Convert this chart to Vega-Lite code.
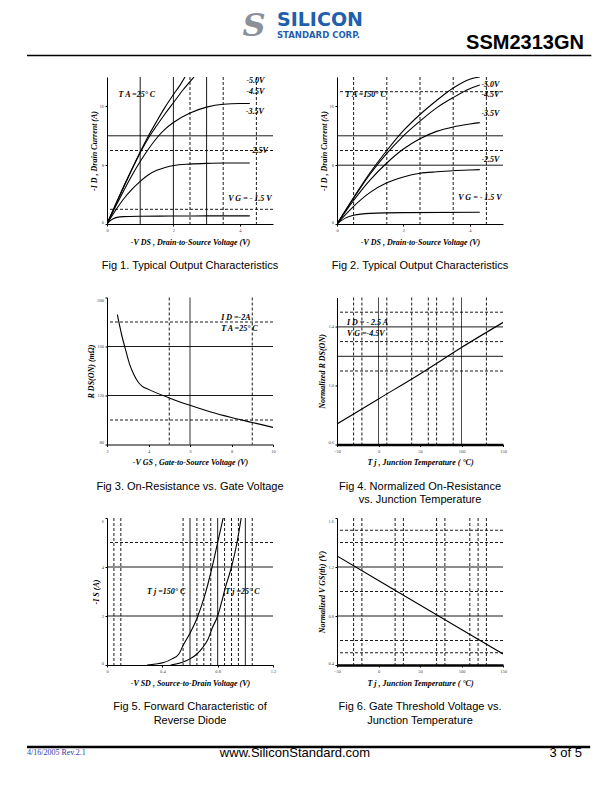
{
  "$schema": "https://vega.github.io/schema/vega-lite/v6.json",
  "autosize": {"type": "pad"},
  "padding": {"left": 25, "top": 8, "right": 0, "bottom": 0},
  "background": "white",
  "spacing": 16,
  "config": {
    "view": {"stroke": null},
    "axis": {"labelFont": "Liberation Serif", "labelFontSize": 4.5, "labelColor": "#444444", "titleFont": "Liberation Serif", "titleFontSize": 8, "titleFontStyle": "italic", "titleFontWeight": "bold", "titleColor": "black", "domainColor": "black", "domainWidth": 1, "tickColor": "black", "tickSize": 2, "grid": false, "labelPadding": 1.5, "labelOverlap": false},
    "axisX": {"titlePadding": 6, "labelFlush": false},
    "axisY": {"titlePadding": 1, "labelFlush": true},
    "title": {"orient": "bottom", "anchor": "middle", "font": "Liberation Sans", "fontSize": 11, "fontWeight": "normal", "color": "black", "offset": 14, "lineHeight": 13.5}
  },
  "vconcat": [
    {
      "width": 566, "height": 52,
      "data": {"values": [{}]},
      "layer": [
        {"mark": {"type": "rule", "color": "black", "strokeWidth": 1.5},
         "encoding": {"x": {"datum": 0, "type": "quantitative", "scale": {"domain": [0, 1]}, "axis": null}, "x2": {"datum": 0.997}, "y": {"datum": 0.0865, "type": "quantitative", "scale": {"domain": [0, 1]}, "axis": null}}},
        {"mark": {"type": "text", "text": "S", "font": "DejaVu Serif", "fontSize": 32, "fontStyle": "italic", "fontWeight": "bold", "color": "#8c9199", "align": "center", "baseline": "middle"},
         "encoding": {"x": {"datum": 0.401, "type": "quantitative"}, "y": {"datum": 0.654, "type": "quantitative"}}},
        {"mark": {"type": "text", "text": "SILICON", "font": "DejaVu Sans", "fontSize": 19, "fontWeight": "bold", "color": "#1f5fae", "align": "left", "baseline": "middle"},
         "encoding": {"x": {"datum": 0.4417, "type": "quantitative"}, "y": {"datum": 0.76, "type": "quantitative"}}},
        {"mark": {"type": "text", "text": "STANDARD CORP.", "font": "DejaVu Sans", "fontSize": 8.5, "fontWeight": "bold", "color": "#1f5fae", "align": "left", "baseline": "middle"},
         "encoding": {"x": {"datum": 0.4417, "type": "quantitative"}, "y": {"datum": 0.49, "type": "quantitative"}}},
        {"mark": {"type": "text", "text": "SSM2313GN", "font": "Liberation Sans", "fontSize": 20, "fontWeight": "bold", "color": "black", "align": "right", "baseline": "middle"},
         "encoding": {"x": {"datum": 0.984, "type": "quantitative"}, "y": {"datum": 0.327, "type": "quantitative"}}}
      ]
    },
    {
      "bounds": "flush",
      "align": "each",
      "columns": 3,
      "spacing": {"row": 73.5, "column": 64},
      "concat": [
        {"width": 16, "height": 147, "data": {"values": [{}]}, "mark": {"type": "text", "text": ""}},
        {
          "width": 166, "height": 147,
          "title": {"text": "Fig 1. Typical Output Characteristics"},
          "layer": [
            {"data": {"values": [
              {"s": "-5.0V", "x": 0, "y": 0}, {"s": "-5.0V", "x": 0.25, "y": 2.6}, {"s": "-5.0V", "x": 0.5, "y": 5.1}, {"s": "-5.0V", "x": 0.75, "y": 7.5}, {"s": "-5.0V", "x": 1, "y": 9.8}, {"s": "-5.0V", "x": 1.25, "y": 12}, {"s": "-5.0V", "x": 1.5, "y": 14}, {"s": "-5.0V", "x": 1.75, "y": 15.9}, {"s": "-5.0V", "x": 2, "y": 17.6}, {"s": "-5.0V", "x": 2.2, "y": 18.9}, {"s": "-5.0V", "x": 2.35, "y": 20},
              {"s": "-4.5V", "x": 0, "y": 0}, {"s": "-4.5V", "x": 0.25, "y": 2.5}, {"s": "-4.5V", "x": 0.5, "y": 5}, {"s": "-4.5V", "x": 0.75, "y": 7.4}, {"s": "-4.5V", "x": 1, "y": 9.7}, {"s": "-4.5V", "x": 1.25, "y": 11.7}, {"s": "-4.5V", "x": 1.5, "y": 13.4}, {"s": "-4.5V", "x": 1.75, "y": 15}, {"s": "-4.5V", "x": 2, "y": 16.5}, {"s": "-4.5V", "x": 2.3, "y": 18.3}, {"s": "-4.5V", "x": 2.62, "y": 20},
              {"s": "-3.5V", "x": 0, "y": 0}, {"s": "-3.5V", "x": 0.25, "y": 2.3}, {"s": "-3.5V", "x": 0.5, "y": 4.5}, {"s": "-3.5V", "x": 0.75, "y": 6.6}, {"s": "-3.5V", "x": 1, "y": 8.5}, {"s": "-3.5V", "x": 1.25, "y": 10.2}, {"s": "-3.5V", "x": 1.5, "y": 11.7}, {"s": "-3.5V", "x": 1.75, "y": 12.9}, {"s": "-3.5V", "x": 2, "y": 13.8}, {"s": "-3.5V", "x": 2.5, "y": 15.1}, {"s": "-3.5V", "x": 3, "y": 15.9}, {"s": "-3.5V", "x": 3.5, "y": 16.3}, {"s": "-3.5V", "x": 4, "y": 16.4}, {"s": "-3.5V", "x": 4.3, "y": 16.4},
              {"s": "-2.5V", "x": 0, "y": 0}, {"s": "-2.5V", "x": 0.25, "y": 1.8}, {"s": "-2.5V", "x": 0.5, "y": 3.4}, {"s": "-2.5V", "x": 0.75, "y": 4.7}, {"s": "-2.5V", "x": 1, "y": 5.8}, {"s": "-2.5V", "x": 1.25, "y": 6.7}, {"s": "-2.5V", "x": 1.5, "y": 7.3}, {"s": "-2.5V", "x": 1.75, "y": 7.7}, {"s": "-2.5V", "x": 2, "y": 7.95}, {"s": "-2.5V", "x": 2.5, "y": 8.15}, {"s": "-2.5V", "x": 3, "y": 8.25}, {"s": "-2.5V", "x": 3.5, "y": 8.3}, {"s": "-2.5V", "x": 4.3, "y": 8.3},
              {"s": "-1.5V", "x": 0, "y": 0}, {"s": "-1.5V", "x": 0.1, "y": 0.45}, {"s": "-1.5V", "x": 0.2, "y": 0.75}, {"s": "-1.5V", "x": 0.3, "y": 0.9}, {"s": "-1.5V", "x": 0.5, "y": 1.0}, {"s": "-1.5V", "x": 1, "y": 1.05}, {"s": "-1.5V", "x": 2, "y": 1.08}, {"s": "-1.5V", "x": 3, "y": 1.1}, {"s": "-1.5V", "x": 4.3, "y": 1.1}
            ]},
             "mark": {"type": "line", "color": "black", "strokeWidth": 1.1, "interpolate": "monotone", "clip": true},
             "encoding": {
               "x": {"field": "x", "type": "quantitative", "scale": {"domain": [0, 5], "nice": false}, "axis": {"title": "-V DS , Drain-to-Source Voltage (V)", "values": [0, 1, 2, 3, 4, 5]}},
               "y": {"field": "y", "type": "quantitative", "scale": {"domain": [0, 20], "nice": false}, "axis": {"title": "-I D , Drain Current (A)", "values": [0, 4, 8, 12, 16, 20]}},
               "detail": {"field": "s", "type": "nominal"}}},
            {"data": {"values": [{"y": 12, "k": "solid"}, {"y": 10, "k": "dash"}, {"y": 2, "k": "dash"}]},
             "mark": {"type": "rule", "color": "black", "strokeWidth": 0.9},
             "encoding": {"y": {"field": "y", "type": "quantitative"}, "strokeDash": {"field": "k", "type": "nominal", "scale": {"domain": ["solid", "dash"], "range": [[1, 0], [3, 2]]}, "legend": null}}},
            {"data": {"values": [{"x": 1, "k": "solid"}, {"x": 2, "k": "solid"}, {"x": 3, "k": "solid"}, {"x": 2.5, "k": "dash"}, {"x": 3.5, "k": "dash"}, {"x": 4.5, "k": "dash"}]},
             "mark": {"type": "rule", "color": "black", "strokeWidth": 0.9},
             "encoding": {"x": {"field": "x", "type": "quantitative"}, "strokeDash": {"field": "k", "type": "nominal", "scale": {"domain": ["solid", "dash"], "range": [[1, 0], [3, 2]]}, "legend": null}}},
            {"data": {"values": [{"x": 0.35, "y": 17.6, "t": "T A =25° C"}, {"x": 4.2, "y": 19.4, "t": "-5.0V"}, {"x": 4.2, "y": 18.0, "t": "-4.5V"}, {"x": 4.18, "y": 15.2, "t": "-3.5V"}, {"x": 4.3, "y": 10, "t": "-2.5V"}, {"x": 3.65, "y": 3.4, "t": "V G = - 1.5 V"}]},
             "mark": {"type": "text", "align": "left", "baseline": "middle", "font": "Liberation Serif", "fontStyle": "italic", "fontWeight": "bold", "fontSize": 8, "color": "black"},
             "encoding": {"x": {"field": "x", "type": "quantitative"}, "y": {"field": "y", "type": "quantitative"}, "text": {"field": "t"}}}
          ]
        },
        {
          "width": 166, "height": 147,
          "title": {"text": "Fig 2. Typical Output Characteristics"},
          "layer": [
            {"data": {"values": [
              {"s": "-5.0V", "x": 0, "y": 0}, {"s": "-5.0V", "x": 0.5, "y": 3.6}, {"s": "-5.0V", "x": 1, "y": 7}, {"s": "-5.0V", "x": 1.5, "y": 10}, {"s": "-5.0V", "x": 2, "y": 12.7}, {"s": "-5.0V", "x": 2.5, "y": 14.9}, {"s": "-5.0V", "x": 3, "y": 16.8}, {"s": "-5.0V", "x": 3.5, "y": 18.5}, {"s": "-5.0V", "x": 4, "y": 19.7}, {"s": "-5.0V", "x": 4.3, "y": 20},
              {"s": "-4.5V", "x": 0, "y": 0}, {"s": "-4.5V", "x": 0.5, "y": 3.5}, {"s": "-4.5V", "x": 1, "y": 6.8}, {"s": "-4.5V", "x": 1.5, "y": 9.6}, {"s": "-4.5V", "x": 2, "y": 12}, {"s": "-4.5V", "x": 2.5, "y": 14}, {"s": "-4.5V", "x": 3, "y": 15.8}, {"s": "-4.5V", "x": 3.5, "y": 17.2}, {"s": "-4.5V", "x": 4, "y": 18.4}, {"s": "-4.5V", "x": 4.3, "y": 18.9},
              {"s": "-3.5V", "x": 0, "y": 0}, {"s": "-3.5V", "x": 0.5, "y": 3.2}, {"s": "-3.5V", "x": 1, "y": 6}, {"s": "-3.5V", "x": 1.5, "y": 8.3}, {"s": "-3.5V", "x": 2, "y": 10.2}, {"s": "-3.5V", "x": 2.5, "y": 11.6}, {"s": "-3.5V", "x": 3, "y": 12.6}, {"s": "-3.5V", "x": 3.5, "y": 13.2}, {"s": "-3.5V", "x": 4, "y": 13.6}, {"s": "-3.5V", "x": 4.3, "y": 13.8},
              {"s": "-2.5V", "x": 0, "y": 0}, {"s": "-2.5V", "x": 0.5, "y": 2.4}, {"s": "-2.5V", "x": 1, "y": 4.3}, {"s": "-2.5V", "x": 1.5, "y": 5.6}, {"s": "-2.5V", "x": 2, "y": 6.4}, {"s": "-2.5V", "x": 2.5, "y": 6.9}, {"s": "-2.5V", "x": 3, "y": 7.1}, {"s": "-2.5V", "x": 3.5, "y": 7.25}, {"s": "-2.5V", "x": 4, "y": 7.35}, {"s": "-2.5V", "x": 4.3, "y": 7.4},
              {"s": "-1.5V", "x": 0, "y": 0}, {"s": "-1.5V", "x": 0.25, "y": 0.8}, {"s": "-1.5V", "x": 0.5, "y": 1.2}, {"s": "-1.5V", "x": 1, "y": 1.45}, {"s": "-1.5V", "x": 2, "y": 1.55}, {"s": "-1.5V", "x": 4.3, "y": 1.6}
            ]},
             "mark": {"type": "line", "color": "black", "strokeWidth": 1.1, "interpolate": "monotone", "clip": true},
             "encoding": {
               "x": {"field": "x", "type": "quantitative", "scale": {"domain": [0, 5], "nice": false}, "axis": {"title": "-V DS , Drain-to-Source Voltage (V)", "values": [0, 1, 2, 3, 4, 5]}},
               "y": {"field": "y", "type": "quantitative", "scale": {"domain": [0, 20], "nice": false}, "axis": {"title": "-I D , Drain Current (A)", "values": [0, 4, 8, 12, 16, 20]}},
               "detail": {"field": "s", "type": "nominal"}}},
            {"data": {"values": [{"y": 12, "k": "solid"}, {"y": 8, "k": "solid"}, {"y": 10, "k": "dash"}, {"y": 18, "k": "dash"}]},
             "mark": {"type": "rule", "color": "black", "strokeWidth": 0.9},
             "encoding": {"y": {"field": "y", "type": "quantitative"}, "strokeDash": {"field": "k", "type": "nominal", "scale": {"domain": ["solid", "dash"], "range": [[1, 0], [3, 2]]}, "legend": null}}},
            {"data": {"values": [{"x": 0.5, "k": "dash"}, {"x": 1.5, "k": "dash"}, {"x": 2.5, "k": "dash"}, {"x": 3.5, "k": "dash"}, {"x": 4.5, "k": "dash"}]},
             "mark": {"type": "rule", "color": "black", "strokeWidth": 0.9},
             "encoding": {"x": {"field": "x", "type": "quantitative"}, "strokeDash": {"field": "k", "type": "nominal", "scale": {"domain": ["solid", "dash"], "range": [[1, 0], [3, 2]]}, "legend": null}}},
            {"data": {"values": [{"x": 0.25, "y": 17.6, "t": "T A =150° C"}, {"x": 4.35, "y": 18.9, "t": "-5.0V"}, {"x": 4.35, "y": 17.6, "t": "-4.5V"}, {"x": 4.35, "y": 15.0, "t": "-3.5V"}, {"x": 4.35, "y": 8.7, "t": "-2.5V"}, {"x": 3.65, "y": 3.6, "t": "V G = - 1.5 V"}]},
             "mark": {"type": "text", "align": "left", "baseline": "middle", "font": "Liberation Serif", "fontStyle": "italic", "fontWeight": "bold", "fontSize": 8, "color": "black"},
             "encoding": {"x": {"field": "x", "type": "quantitative"}, "y": {"field": "y", "type": "quantitative"}, "text": {"field": "t"}}}
          ]
        },
        {"width": 16, "height": 147, "data": {"values": [{}]}, "mark": {"type": "text", "text": ""}},
        {
          "width": 166, "height": 147,
          "title": {"text": "Fig 3. On-Resistance  vs. Gate Voltage"},
          "layer": [
            {"data": {"values": [
              {"x": 2.5, "y": 186}, {"x": 2.7, "y": 170}, {"x": 2.9, "y": 157}, {"x": 3.1, "y": 145}, {"x": 3.3, "y": 137}, {"x": 3.5, "y": 131}, {"x": 3.7, "y": 127.5}, {"x": 4, "y": 125}, {"x": 5, "y": 118}, {"x": 6, "y": 112}, {"x": 7, "y": 106.5}, {"x": 8, "y": 102}, {"x": 9, "y": 98}, {"x": 10, "y": 94}
            ]},
             "mark": {"type": "line", "color": "black", "strokeWidth": 1.1, "interpolate": "monotone", "clip": true},
             "encoding": {
               "x": {"field": "x", "type": "quantitative", "scale": {"domain": [2, 10], "nice": false}, "axis": {"title": "-V GS , Gate-to-Source Voltage (V)", "values": [2, 4, 6, 8, 10]}},
               "y": {"field": "y", "type": "quantitative", "scale": {"domain": [80, 200], "nice": false}, "axis": {"title": "R DS(ON) (mΩ)", "values": [80, 120, 160, 200]}}}},
            {"data": {"values": [{"y": 120, "k": "solid"}, {"y": 160, "k": "solid"}, {"y": 100, "k": "dash"}, {"y": 180, "k": "dash"}]},
             "mark": {"type": "rule", "color": "black", "strokeWidth": 0.9},
             "encoding": {"y": {"field": "y", "type": "quantitative"}, "strokeDash": {"field": "k", "type": "nominal", "scale": {"domain": ["solid", "dash"], "range": [[1, 0], [3, 2]]}, "legend": null}}},
            {"data": {"values": [{"x": 6, "k": "solid"}, {"x": 5, "k": "dash"}, {"x": 9, "k": "dash"}]},
             "mark": {"type": "rule", "color": "black", "strokeWidth": 0.9},
             "encoding": {"x": {"field": "x", "type": "quantitative"}, "strokeDash": {"field": "k", "type": "nominal", "scale": {"domain": ["solid", "dash"], "range": [[1, 0], [3, 2]]}, "legend": null}}},
            {"data": {"values": [{"x": 7.5, "y": 183, "t": "I D =-2A"}, {"x": 7.5, "y": 174, "t": "T A =25° C"}]},
             "mark": {"type": "text", "align": "left", "baseline": "middle", "font": "Liberation Serif", "fontStyle": "italic", "fontWeight": "bold", "fontSize": 8, "color": "black"},
             "encoding": {"x": {"field": "x", "type": "quantitative"}, "y": {"field": "y", "type": "quantitative"}, "text": {"field": "t"}}}
          ]
        },
        {
          "width": 166, "height": 147,
          "title": {"text": ["Fig 4. Normalized On-Resistance", "vs. Junction Temperature"]},
          "layer": [
            {"data": {"values": [
              {"x": -50, "y": 0.74}, {"x": 0, "y": 0.91}, {"x": 50, "y": 1.08}, {"x": 100, "y": 1.26}, {"x": 150, "y": 1.43}
            ]},
             "mark": {"type": "line", "color": "black", "strokeWidth": 1.1, "interpolate": "monotone", "clip": true},
             "encoding": {
               "x": {"field": "x", "type": "quantitative", "scale": {"domain": [-50, 150], "nice": false}, "axis": {"title": "T j , Junction Temperature ( °C)", "values": [-50, 0, 50, 100, 150], "domainWidth": 2.5}},
               "y": {"field": "y", "type": "quantitative", "scale": {"domain": [0.6, 1.6], "nice": false}, "axis": {"title": "Normalized R DS(ON)", "values": [0.6, 0.8, 1.0, 1.2, 1.4, 1.6], "format": ".1f"}}}},
            {"data": {"values": [{"y": 1.2, "k": "solid"}, {"y": 1.4, "k": "solid"}, {"y": 1.1, "k": "dash"}, {"y": 1.3, "k": "dash"}, {"y": 1.5, "k": "dash"}]},
             "mark": {"type": "rule", "color": "black", "strokeWidth": 0.9},
             "encoding": {"y": {"field": "y", "type": "quantitative"}, "strokeDash": {"field": "k", "type": "nominal", "scale": {"domain": ["solid", "dash"], "range": [[1, 0], [3, 2]]}, "legend": null}}},
            {"data": {"values": [{"x": 0, "k": "solid"}, {"x": 100, "k": "solid"}, {"x": -30, "k": "dash"}, {"x": -20, "k": "dash"}, {"x": 10, "k": "dash"}, {"x": 40, "k": "dash"}, {"x": 60, "k": "dash"}, {"x": 70, "k": "dash"}, {"x": 90, "k": "dash"}, {"x": 130, "k": "dash"}]},
             "mark": {"type": "rule", "color": "black", "strokeWidth": 0.9},
             "encoding": {"x": {"field": "x", "type": "quantitative"}, "strokeDash": {"field": "k", "type": "nominal", "scale": {"domain": ["solid", "dash"], "range": [[1, 0], [3, 2]]}, "legend": null}}},
            {"data": {"values": [{"x": -38, "y": 1.427, "t": "I D = - 2.5 A"}, {"x": -38, "y": 1.35, "t": "V G =-4.5V"}]},
             "mark": {"type": "text", "align": "left", "baseline": "middle", "font": "Liberation Serif", "fontStyle": "italic", "fontWeight": "bold", "fontSize": 8, "color": "black"},
             "encoding": {"x": {"field": "x", "type": "quantitative"}, "y": {"field": "y", "type": "quantitative"}, "text": {"field": "t"}}}
          ]
        },
        {"width": 16, "height": 147, "data": {"values": [{}]}, "mark": {"type": "text", "text": ""}},
        {
          "width": 166, "height": 147,
          "title": {"text": ["Fig 5. Forward Characteristic of", "Reverse Diode"]},
          "layer": [
            {"data": {"values": [
              {"s": "150C", "x": 0.29, "y": 0}, {"s": "150C", "x": 0.35, "y": 0.04}, {"s": "150C", "x": 0.41, "y": 0.1}, {"s": "150C", "x": 0.47, "y": 0.25}, {"s": "150C", "x": 0.52, "y": 0.45}, {"s": "150C", "x": 0.55, "y": 0.8}, {"s": "150C", "x": 0.6, "y": 1.3}, {"s": "150C", "x": 0.65, "y": 1.9}, {"s": "150C", "x": 0.71, "y": 2.9}, {"s": "150C", "x": 0.76, "y": 4.0}, {"s": "150C", "x": 0.8, "y": 5.0}, {"s": "150C", "x": 0.84, "y": 6.0},
              {"s": "25C", "x": 0.46, "y": 0}, {"s": "25C", "x": 0.54, "y": 0.1}, {"s": "25C", "x": 0.6, "y": 0.25}, {"s": "25C", "x": 0.65, "y": 0.45}, {"s": "25C", "x": 0.69, "y": 0.7}, {"s": "25C", "x": 0.73, "y": 1.05}, {"s": "25C", "x": 0.76, "y": 1.5}, {"s": "25C", "x": 0.8, "y": 2.0}, {"s": "25C", "x": 0.83, "y": 2.6}, {"s": "25C", "x": 0.855, "y": 3.15}, {"s": "25C", "x": 0.9, "y": 4.0}, {"s": "25C", "x": 0.94, "y": 5.0}, {"s": "25C", "x": 0.97, "y": 6.0}
            ]},
             "mark": {"type": "line", "color": "black", "strokeWidth": 1.1, "interpolate": "monotone", "clip": true},
             "encoding": {
               "x": {"field": "x", "type": "quantitative", "scale": {"domain": [0, 1.2], "nice": false}, "axis": {"title": "-V SD , Source-to-Drain Voltage (V)", "values": [0, 0.2, 0.4, 0.6, 0.8, 1, 1.2], "format": "~g"}},
               "y": {"field": "y", "type": "quantitative", "scale": {"domain": [0, 6], "nice": false}, "axis": {"title": "-I S (A)", "values": [0, 2, 4, 6]}},
               "detail": {"field": "s", "type": "nominal"}}},
            {"data": {"values": [{"y": 2, "k": "solid"}, {"y": 4, "k": "solid"}, {"y": 5, "k": "dash"}]},
             "mark": {"type": "rule", "color": "black", "strokeWidth": 0.9},
             "encoding": {"y": {"field": "y", "type": "quantitative"}, "strokeDash": {"field": "k", "type": "nominal", "scale": {"domain": ["solid", "dash"], "range": [[1, 0], [3, 2]]}, "legend": null}}},
            {"data": {"values": [{"x": 0.6, "k": "solid"}, {"x": 0.8, "k": "solid"}, {"x": 1.0, "k": "solid"}, {"x": 0.05, "k": "dash"}, {"x": 0.1, "k": "dash"}, {"x": 0.55, "k": "dash"}, {"x": 0.65, "k": "dash"}, {"x": 0.7, "k": "dash"}, {"x": 0.75, "k": "dash"}, {"x": 0.85, "k": "dash"}, {"x": 0.9, "k": "dash"}, {"x": 0.95, "k": "dash"}, {"x": 1.05, "k": "dash"}]},
             "mark": {"type": "rule", "color": "black", "strokeWidth": 0.9},
             "encoding": {"x": {"field": "x", "type": "quantitative"}, "strokeDash": {"field": "k", "type": "nominal", "scale": {"domain": ["solid", "dash"], "range": [[1, 0], [3, 2]]}, "legend": null}}},
            {"data": {"values": [{"x": 0.29, "y": 3.0, "t": "T j =150° C"}, {"x": 0.855, "y": 3.0, "t": "T j =25° C"}]},
             "mark": {"type": "text", "align": "left", "baseline": "middle", "font": "Liberation Serif", "fontStyle": "italic", "fontWeight": "bold", "fontSize": 8, "color": "black"},
             "encoding": {"x": {"field": "x", "type": "quantitative"}, "y": {"field": "y", "type": "quantitative"}, "text": {"field": "t"}}}
          ]
        },
        {
          "width": 166, "height": 147,
          "title": {"text": ["Fig 6. Gate Threshold Voltage vs.", "Junction Temperature"]},
          "layer": [
            {"data": {"values": [
              {"x": -50, "y": 1.29}, {"x": 0, "y": 1.09}, {"x": 50, "y": 0.89}, {"x": 100, "y": 0.69}, {"x": 150, "y": 0.49}
            ]},
             "mark": {"type": "line", "color": "black", "strokeWidth": 1.1, "clip": true},
             "encoding": {
               "x": {"field": "x", "type": "quantitative", "scale": {"domain": [-50, 150], "nice": false}, "axis": {"title": "T j , Junction Temperature ( °C)", "values": [-50, 0, 50, 100, 150], "domainWidth": 2.5}},
               "y": {"field": "y", "type": "quantitative", "scale": {"domain": [0.4, 1.6], "nice": false}, "axis": {"title": "Normalized V GS(th) (V)", "values": [0.4, 0.8, 1.2, 1.6], "format": ".1f"}}}},
            {"data": {"values": [{"y": 0.8, "k": "solid"}, {"y": 1.2, "k": "solid"}, {"y": 0.5, "k": "dash"}, {"y": 0.6, "k": "dash"}, {"y": 1.0, "k": "dash"}, {"y": 1.4, "k": "dash"}, {"y": 1.5, "k": "dash"}]},
             "mark": {"type": "rule", "color": "black", "strokeWidth": 0.9},
             "encoding": {"y": {"field": "y", "type": "quantitative"}, "strokeDash": {"field": "k", "type": "nominal", "scale": {"domain": ["solid", "dash"], "range": [[1, 0], [3, 2]]}, "legend": null}}},
            {"data": {"values": [{"x": -30, "k": "dash"}, {"x": -20, "k": "dash"}, {"x": 20, "k": "dash"}, {"x": 30, "k": "dash"}, {"x": 70, "k": "dash"}, {"x": 80, "k": "dash"}, {"x": 110, "k": "dash"}, {"x": 120, "k": "dash"}, {"x": 130, "k": "dash"}]},
             "mark": {"type": "rule", "color": "black", "strokeWidth": 0.9},
             "encoding": {"x": {"field": "x", "type": "quantitative"}, "strokeDash": {"field": "k", "type": "nominal", "scale": {"domain": ["solid", "dash"], "range": [[1, 0], [3, 2]]}, "legend": null}}}
          ]
        }
      ]
    },
    {
      "width": 566, "height": 16,
      "data": {"values": [{}]},
      "layer": [
        {"mark": {"type": "rule", "color": "black", "strokeWidth": 2.5},
         "encoding": {"x": {"datum": 0, "type": "quantitative", "scale": {"domain": [0, 1]}, "axis": null}, "x2": {"datum": 0.995}, "y": {"datum": 0.69, "type": "quantitative", "scale": {"domain": [0, 1]}, "axis": null}}},
        {"mark": {"type": "text", "text": "4/16/2005 Rev.2.1", "font": "Liberation Serif", "fontSize": 8, "color": "#2a3cb0", "align": "left", "baseline": "middle"},
         "encoding": {"x": {"datum": 0, "type": "quantitative"}, "y": {"datum": 0.3, "type": "quantitative"}}},
        {"mark": {"type": "text", "text": "www.SiliconStandard.com", "font": "Liberation Sans", "fontSize": 13, "color": "black", "align": "center", "baseline": "middle"},
         "encoding": {"x": {"datum": 0.4735, "type": "quantitative"}, "y": {"datum": 0.3, "type": "quantitative"}}},
        {"mark": {"type": "text", "text": "3 of 5", "font": "Liberation Sans", "fontSize": 13, "color": "black", "align": "right", "baseline": "middle"},
         "encoding": {"x": {"datum": 0.9806, "type": "quantitative"}, "y": {"datum": 0.3, "type": "quantitative"}}}
      ]
    }
  ]
}
